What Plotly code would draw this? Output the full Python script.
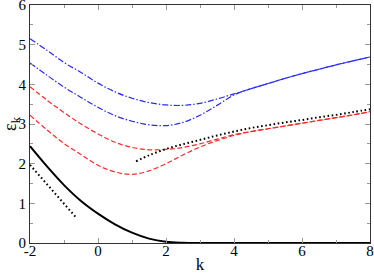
import plotly.graph_objects as go

k_main = [-2, -1.5, -1, -0.5, 0, 0.5, 1, 1.5, 2, 2.5, 3, 3.5, 4, 4.5, 5, 5.5, 6, 6.5, 7, 7.5, 8]

blue_upper = [5.15, 4.86, 4.55, 4.30, 4.03, 3.81, 3.65, 3.54, 3.48, 3.47, 3.52, 3.63, 3.76, 3.89, 4.02, 4.15, 4.27, 4.38, 4.49, 4.59, 4.69]
blue_lower = [4.54, 4.23, 3.93, 3.67, 3.42, 3.21, 3.07, 2.98, 2.96, 3.04, 3.22, 3.47, 3.73, 3.89, 4.02, 4.15, 4.27, 4.38, 4.49, 4.59, 4.69]
red_upper = [3.94, 3.60, 3.29, 3.00, 2.75, 2.54, 2.41, 2.35, 2.36, 2.41, 2.50, 2.62, 2.73, 2.81, 2.88, 2.95, 3.02, 3.09, 3.16, 3.23, 3.31]
red_lower = [3.22, 2.85, 2.51, 2.23, 1.96, 1.79, 1.73, 1.82, 2.00, 2.22, 2.42, 2.58, 2.71, 2.81, 2.88, 2.95, 3.02, 3.09, 3.16, 3.23, 3.31]
black_solid = [2.44, 1.93, 1.46, 1.06, 0.74, 0.47, 0.26, 0.11, 0.03, 0.006, 0.0, 0.0, 0.0, 0.0, 0.0, 0.0, 0.0, 0.0, 0.0, 0.0, 0.0]

k_dot_short = [-2.0, -0.62]
dot_short = [1.97, 0.62]

k_dot_long = [1.12, 1.5, 2, 2.5, 3, 3.5, 4, 4.5, 5, 5.5, 6, 6.5, 7, 7.5, 8]
dot_long = [2.06, 2.21, 2.37, 2.49, 2.60, 2.71, 2.81, 2.90, 2.97, 3.04, 3.10, 3.17, 3.23, 3.30, 3.37]

x_ticks = [-2, 0, 2, 4, 6, 8]
y_ticks = [0, 1, 2, 3, 4, 5, 6]

BLUE = "#2a2aff"
RED = "#ff2a2a"
DASHDOT = "6px,2px,1.5px,2px"
DASH = "5px,2.5px"
DOT = "1.6px,2.6px"

fig = go.Figure()
fig.add_trace(go.Scatter(x=k_main, y=blue_upper, mode="lines",
                         line=dict(color=BLUE, width=1.2, dash=DASHDOT, shape="spline")))
fig.add_trace(go.Scatter(x=k_main, y=blue_lower, mode="lines",
                         line=dict(color=BLUE, width=1.2, dash=DASHDOT, shape="spline")))
fig.add_trace(go.Scatter(x=k_main, y=red_upper, mode="lines",
                         line=dict(color=RED, width=1.2, dash=DASH, shape="spline")))
fig.add_trace(go.Scatter(x=k_main, y=red_lower, mode="lines",
                         line=dict(color=RED, width=1.2, dash=DASH, shape="spline")))
fig.add_trace(go.Scatter(x=k_main, y=black_solid, mode="lines",
                         line=dict(color="black", width=2, shape="spline")))
fig.add_trace(go.Scatter(x=k_dot_short, y=dot_short, mode="lines",
                         line=dict(color="black", width=2, dash=DOT)))
fig.add_trace(go.Scatter(x=k_dot_long, y=dot_long, mode="lines",
                         line=dict(color="black", width=2, dash=DOT, shape="spline")))

SERIF = "Liberation Serif"
font = dict(family=SERIF, size=15, color="black")
axis_common = dict(showgrid=False, zeroline=False, showline=True, linecolor="#333333",
                   linewidth=1, mirror="allticks", ticks="inside", ticklen=5,
                   tickcolor="#999999", tickwidth=1, tickfont=font,
                   ticklabeloverflow="allow", automargin=False)

fig.update_xaxes(range=[-2, 8], tickvals=x_ticks, ticktext=[str(v) for v in x_ticks],
                 minor=dict(ticks="inside", dtick=1, tick0=-2, ticklen=3, tickcolor="#999999"),
                 title=dict(text="k", font=dict(family=SERIF, size=17, color="black"), standoff=2),
                 ticklabelstandoff=-6,
                 **axis_common)
fig.update_yaxes(range=[0, 6], tickvals=y_ticks, ticktext=[str(v) for v in y_ticks],
                 minor=dict(ticks="inside", dtick=0.5, tick0=0, ticklen=3, tickcolor="#999999"),
                 title=dict(text="ε<sub>k</sub>", font=dict(family=SERIF, size=18, color="black"), standoff=3),
                 ticklabelstandoff=0,
                 **axis_common)

fig.update_layout(width=374, height=274, showlegend=False,
                  margin=dict(l=30, r=4, t=5, b=31),
                  paper_bgcolor="white", plot_bgcolor="white",
                  font=dict(family=SERIF))

fig.write_html("out.html", config={"displayModeBar": False},
               post_script="document.body.style.margin='0';document.body.style.overflow='hidden';")
